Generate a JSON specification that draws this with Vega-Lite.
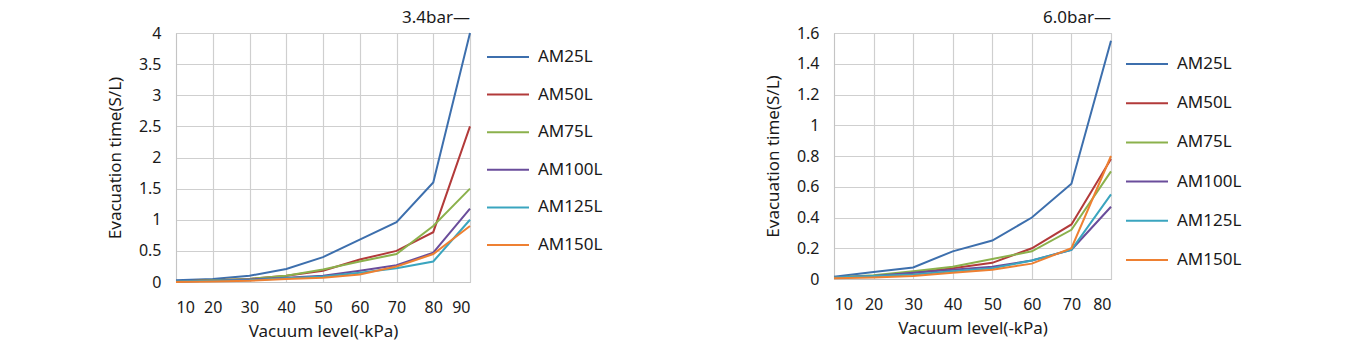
{
  "$schema": "https://vega.github.io/schema/vega-lite/v6.json",
  "padding": {"left": 105, "top": 8, "right": 0, "bottom": 0},
  "background": "white",
  "config": {
    "font": "Noto Sans",
    "view": {"stroke": "#c4c4c4", "strokeWidth": 1},
    "axis": {
      "gridColor": "#cfcfcf", "gridWidth": 1.2, "domainColor": "#c4c4c4", "ticks": false,
      "labelFontSize": 16, "labelColor": "#1a1a1a", "titleFontSize": 17, "titleFontWeight": "normal", "titleColor": "#1a1a1a"
    },
    "legend": {
      "symbolType": "stroke", "symbolSize": 1764, "symbolStrokeWidth": 2, "labelFontSize": 17, "labelColor": "#1a1a1a",
      "labelOffset": 8, "title": null
    },
    "title": {"fontSize": 17, "fontWeight": "normal", "anchor": "end", "frame": "group", "color": "#1a1a1a", "offset": -2}
  },
  "datasets": {
    "d": [
      {"p": "3.4bar", "s": "AM25L", "x": 10, "y": 0.03}, {"p": "3.4bar", "s": "AM25L", "x": 20, "y": 0.05}, {"p": "3.4bar", "s": "AM25L", "x": 30, "y": 0.1}, {"p": "3.4bar", "s": "AM25L", "x": 40, "y": 0.21}, {"p": "3.4bar", "s": "AM25L", "x": 50, "y": 0.4}, {"p": "3.4bar", "s": "AM25L", "x": 60, "y": 0.68}, {"p": "3.4bar", "s": "AM25L", "x": 70, "y": 0.96}, {"p": "3.4bar", "s": "AM25L", "x": 80, "y": 1.6}, {"p": "3.4bar", "s": "AM25L", "x": 90, "y": 4.0},
      {"p": "3.4bar", "s": "AM50L", "x": 10, "y": 0.01}, {"p": "3.4bar", "s": "AM50L", "x": 20, "y": 0.03}, {"p": "3.4bar", "s": "AM50L", "x": 30, "y": 0.05}, {"p": "3.4bar", "s": "AM50L", "x": 40, "y": 0.1}, {"p": "3.4bar", "s": "AM50L", "x": 50, "y": 0.18}, {"p": "3.4bar", "s": "AM50L", "x": 60, "y": 0.36}, {"p": "3.4bar", "s": "AM50L", "x": 70, "y": 0.5}, {"p": "3.4bar", "s": "AM50L", "x": 80, "y": 0.8}, {"p": "3.4bar", "s": "AM50L", "x": 90, "y": 2.5},
      {"p": "3.4bar", "s": "AM75L", "x": 10, "y": 0.01}, {"p": "3.4bar", "s": "AM75L", "x": 20, "y": 0.03}, {"p": "3.4bar", "s": "AM75L", "x": 30, "y": 0.05}, {"p": "3.4bar", "s": "AM75L", "x": 40, "y": 0.1}, {"p": "3.4bar", "s": "AM75L", "x": 50, "y": 0.2}, {"p": "3.4bar", "s": "AM75L", "x": 60, "y": 0.33}, {"p": "3.4bar", "s": "AM75L", "x": 70, "y": 0.45}, {"p": "3.4bar", "s": "AM75L", "x": 80, "y": 0.9}, {"p": "3.4bar", "s": "AM75L", "x": 90, "y": 1.5},
      {"p": "3.4bar", "s": "AM100L", "x": 10, "y": 0.01}, {"p": "3.4bar", "s": "AM100L", "x": 20, "y": 0.02}, {"p": "3.4bar", "s": "AM100L", "x": 30, "y": 0.04}, {"p": "3.4bar", "s": "AM100L", "x": 40, "y": 0.07}, {"p": "3.4bar", "s": "AM100L", "x": 50, "y": 0.1}, {"p": "3.4bar", "s": "AM100L", "x": 60, "y": 0.18}, {"p": "3.4bar", "s": "AM100L", "x": 70, "y": 0.27}, {"p": "3.4bar", "s": "AM100L", "x": 80, "y": 0.47}, {"p": "3.4bar", "s": "AM100L", "x": 90, "y": 1.18},
      {"p": "3.4bar", "s": "AM125L", "x": 10, "y": 0.01}, {"p": "3.4bar", "s": "AM125L", "x": 20, "y": 0.02}, {"p": "3.4bar", "s": "AM125L", "x": 30, "y": 0.03}, {"p": "3.4bar", "s": "AM125L", "x": 40, "y": 0.06}, {"p": "3.4bar", "s": "AM125L", "x": 50, "y": 0.09}, {"p": "3.4bar", "s": "AM125L", "x": 60, "y": 0.15}, {"p": "3.4bar", "s": "AM125L", "x": 70, "y": 0.22}, {"p": "3.4bar", "s": "AM125L", "x": 80, "y": 0.33}, {"p": "3.4bar", "s": "AM125L", "x": 90, "y": 1.0},
      {"p": "3.4bar", "s": "AM150L", "x": 10, "y": 0.0}, {"p": "3.4bar", "s": "AM150L", "x": 20, "y": 0.01}, {"p": "3.4bar", "s": "AM150L", "x": 30, "y": 0.02}, {"p": "3.4bar", "s": "AM150L", "x": 40, "y": 0.05}, {"p": "3.4bar", "s": "AM150L", "x": 50, "y": 0.07}, {"p": "3.4bar", "s": "AM150L", "x": 60, "y": 0.12}, {"p": "3.4bar", "s": "AM150L", "x": 70, "y": 0.25}, {"p": "3.4bar", "s": "AM150L", "x": 80, "y": 0.45}, {"p": "3.4bar", "s": "AM150L", "x": 90, "y": 0.9},
      {"p": "6.0bar", "s": "AM25L", "x": 10, "y": 0.015}, {"p": "6.0bar", "s": "AM25L", "x": 20, "y": 0.045}, {"p": "6.0bar", "s": "AM25L", "x": 30, "y": 0.075}, {"p": "6.0bar", "s": "AM25L", "x": 40, "y": 0.18}, {"p": "6.0bar", "s": "AM25L", "x": 50, "y": 0.25}, {"p": "6.0bar", "s": "AM25L", "x": 60, "y": 0.4}, {"p": "6.0bar", "s": "AM25L", "x": 70, "y": 0.62}, {"p": "6.0bar", "s": "AM25L", "x": 80, "y": 1.55},
      {"p": "6.0bar", "s": "AM50L", "x": 10, "y": 0.01}, {"p": "6.0bar", "s": "AM50L", "x": 20, "y": 0.02}, {"p": "6.0bar", "s": "AM50L", "x": 30, "y": 0.04}, {"p": "6.0bar", "s": "AM50L", "x": 40, "y": 0.07}, {"p": "6.0bar", "s": "AM50L", "x": 50, "y": 0.105}, {"p": "6.0bar", "s": "AM50L", "x": 60, "y": 0.2}, {"p": "6.0bar", "s": "AM50L", "x": 70, "y": 0.355}, {"p": "6.0bar", "s": "AM50L", "x": 80, "y": 0.78},
      {"p": "6.0bar", "s": "AM75L", "x": 10, "y": 0.01}, {"p": "6.0bar", "s": "AM75L", "x": 20, "y": 0.025}, {"p": "6.0bar", "s": "AM75L", "x": 30, "y": 0.05}, {"p": "6.0bar", "s": "AM75L", "x": 40, "y": 0.08}, {"p": "6.0bar", "s": "AM75L", "x": 50, "y": 0.13}, {"p": "6.0bar", "s": "AM75L", "x": 60, "y": 0.18}, {"p": "6.0bar", "s": "AM75L", "x": 70, "y": 0.32}, {"p": "6.0bar", "s": "AM75L", "x": 80, "y": 0.7},
      {"p": "6.0bar", "s": "AM100L", "x": 10, "y": 0.01}, {"p": "6.0bar", "s": "AM100L", "x": 20, "y": 0.02}, {"p": "6.0bar", "s": "AM100L", "x": 30, "y": 0.04}, {"p": "6.0bar", "s": "AM100L", "x": 40, "y": 0.06}, {"p": "6.0bar", "s": "AM100L", "x": 50, "y": 0.08}, {"p": "6.0bar", "s": "AM100L", "x": 60, "y": 0.12}, {"p": "6.0bar", "s": "AM100L", "x": 70, "y": 0.19}, {"p": "6.0bar", "s": "AM100L", "x": 80, "y": 0.47},
      {"p": "6.0bar", "s": "AM125L", "x": 10, "y": 0.01}, {"p": "6.0bar", "s": "AM125L", "x": 20, "y": 0.02}, {"p": "6.0bar", "s": "AM125L", "x": 30, "y": 0.03}, {"p": "6.0bar", "s": "AM125L", "x": 40, "y": 0.05}, {"p": "6.0bar", "s": "AM125L", "x": 50, "y": 0.07}, {"p": "6.0bar", "s": "AM125L", "x": 60, "y": 0.12}, {"p": "6.0bar", "s": "AM125L", "x": 70, "y": 0.19}, {"p": "6.0bar", "s": "AM125L", "x": 80, "y": 0.55},
      {"p": "6.0bar", "s": "AM150L", "x": 10, "y": 0.005}, {"p": "6.0bar", "s": "AM150L", "x": 20, "y": 0.01}, {"p": "6.0bar", "s": "AM150L", "x": 30, "y": 0.02}, {"p": "6.0bar", "s": "AM150L", "x": 40, "y": 0.04}, {"p": "6.0bar", "s": "AM150L", "x": 50, "y": 0.06}, {"p": "6.0bar", "s": "AM150L", "x": 60, "y": 0.1}, {"p": "6.0bar", "s": "AM150L", "x": 70, "y": 0.2}, {"p": "6.0bar", "s": "AM150L", "x": 80, "y": 0.8}
    ]
  },
  "spacing": 157,
  "resolve": {"scale": {"color": "independent", "x": "independent", "y": "independent"}},
  "hconcat": [
    {
      "title": "3.4bar—",
      "width": 294, "height": 249,
      "data": {"name": "d"},
      "transform": [{"filter": "datum.p === '3.4bar'"}],
      "mark": {"type": "line", "strokeWidth": 2},
      "encoding": {
        "x": {"field": "x", "type": "quantitative", "scale": {"domain": [10, 90], "nice": false, "zero": false},
              "axis": {"values": [10, 20, 30, 40, 50, 60, 70, 80, 90], "title": "Vacuum level(-kPa)", "labelPadding": 17, "titlePadding": 8}},
        "y": {"field": "y", "type": "quantitative", "scale": {"domain": [0, 4], "nice": false},
              "axis": {"values": [0, 0.5, 1, 1.5, 2, 2.5, 3, 3.5, 4], "format": "~g", "title": "Evacuation time(S/L)", "labelPadding": 15, "titlePadding": 14}},
        "color": {"field": "s", "type": "nominal",
                  "scale": {"domain": ["AM25L", "AM50L", "AM75L", "AM100L", "AM125L", "AM150L"], "range": ["#3d6fad", "#b23a3a", "#8bb14c", "#6a4d9b", "#3aa5bf", "#ee8032"]},
                  "legend": {"padding": 2, "offset": 10, "rowPadding": 7.6}}
      }
    },
    {
      "title": "6.0bar—",
      "width": 277, "height": 246,
      "data": {"name": "d"},
      "transform": [{"filter": "datum.p === '6.0bar'"}],
      "mark": {"type": "line", "strokeWidth": 2},
      "encoding": {
        "x": {"field": "x", "type": "quantitative", "scale": {"domain": [10, 80], "nice": false, "zero": false},
              "axis": {"values": [10, 20, 30, 40, 50, 60, 70, 80], "title": "Vacuum level(-kPa)", "labelPadding": 17, "titlePadding": 8}},
        "y": {"field": "y", "type": "quantitative", "scale": {"domain": [0, 1.6], "nice": false},
              "axis": {"values": [0, 0.2, 0.4, 0.6, 0.8, 1, 1.2, 1.4, 1.6], "format": "~g", "title": "Evacuation time(S/L)", "labelPadding": 15, "titlePadding": 14}},
        "color": {"field": "s", "type": "nominal",
                  "scale": {"domain": ["AM25L", "AM50L", "AM75L", "AM100L", "AM125L", "AM150L"], "range": ["#3d6fad", "#b23a3a", "#8bb14c", "#6a4d9b", "#3aa5bf", "#ee8032"]},
                  "legend": {"padding": 9, "offset": 1, "rowPadding": 9.2}}
      }
    }
  ]
}
